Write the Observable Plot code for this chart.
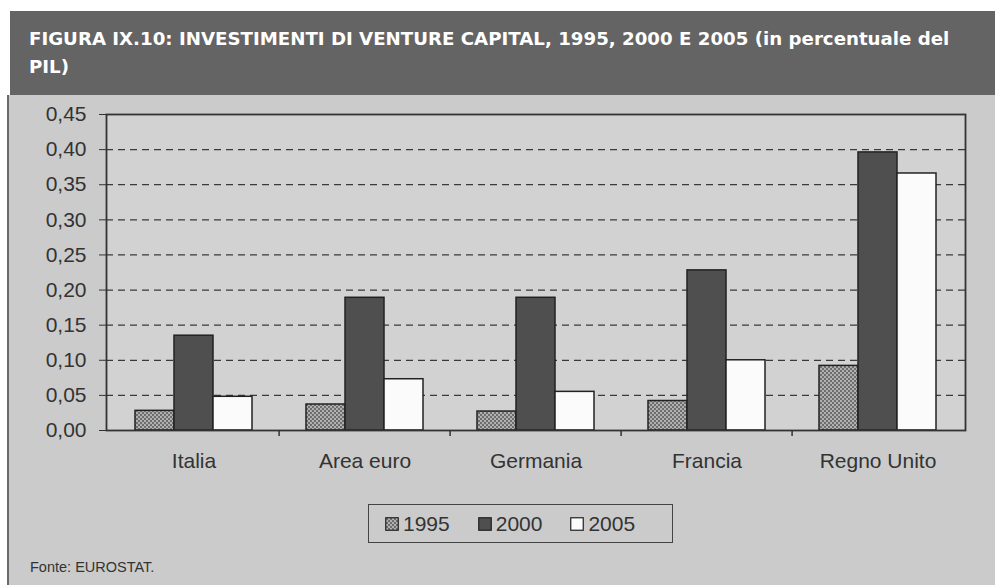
<!DOCTYPE html>
<html>
<head>
<meta charset="utf-8">
<script src="https://cdn.jsdelivr.net/npm/d3@7"></script>
<script src="https://cdn.jsdelivr.net/npm/@observablehq/plot@0.6"></script>
<style>
  html, body { margin: 0; padding: 0; background: #ffffff; }
  #page { position: relative; width: 995px; height: 585px; overflow: hidden; background: #ffffff; }
  #banner { position: absolute; left: 10px; top: 11px; width: 985px; height: 84px; background: #646464;
    color: #ffffff; font-family: "DejaVu Sans", "Open Sans", sans-serif; font-weight: 700; font-size: 16.5px;
    line-height: 28px; box-sizing: border-box; padding: 14px 0 0 19px; white-space: nowrap; }
  #area { position: absolute; left: 7px; top: 95px; width: 988px; height: 490px; background: #cbcbcb;
    border-left: 2px solid #6a6a6a; box-sizing: border-box; }
  #chart { position: absolute; left: 0; top: 95px; }
  #chart svg text { font-family: "Liberation Sans", Arial, sans-serif; }
  #legend { position: absolute; left: 368px; top: 504px; width: 305px; height: 39px; box-sizing: border-box;
    border: 1.5px solid #444; display: flex; align-items: center; padding-left: 16px;
    font-family: "Liberation Sans", Arial, sans-serif; font-size: 21px; color: #333; }
  .item { display: flex; align-items: center; margin-right: 28px; }
  .item svg { margin-right: 4px; }
  #source { position: absolute; left: 30px; top: 559px; font-family: "Liberation Sans", Arial, sans-serif;
    font-size: 14.5px; color: #333; }
</style>
</head>
<body>
<div id="page">
  <div id="area"></div>
  <div id="banner"><div id="t1"><span id="t1s">FIGURA IX.10: INVESTIMENTI DI VENTURE CAPITAL, 1995, 2000 E 2005 (in percentuale del</span></div><div id="t2"><span id="t2s">PIL)</span></div></div>
  <div id="chart"></div>
  <div id="legend"></div>
  <div id="source">Fonte: EUROSTAT.</div>
</div>
<script>
// ---- data ----
const countries = ["Italia", "Area euro", "Germania", "Francia", "Regno Unito"];
const years = ["1995", "2000", "2005"];
const v1995 = [0.028, 0.037, 0.027, 0.042, 0.092];
const v2000 = [0.135, 0.189, 0.189, 0.228, 0.396];
const v2005 = [0.048, 0.073, 0.055, 0.100, 0.366];
const yTicks = [0, 0.05, 0.10, 0.15, 0.20, 0.25, 0.30, 0.35, 0.40, 0.45];

// ---- layout ----
const W = 995, H = 490;
const mTop = 19, mBottom = 155, mLeft = 106, mRight = 30;
const plotW = W - mLeft - mRight, plotH = H - mTop - mBottom;
const step = plotW / countries.length;
const bw = 39;
const pInner = 1 - bw / step;
const series = [v1995, v2000, v2005];
const fills = ["url(#hatch95)", "#4f4f4f", "#fbfbfb"];
const gridVals = yTicks.filter(v => v > 0 && v < 0.45);
const tickLen = 6 * 0.45 / plotH;
const fmt = d => d.toFixed(2).replace(".", ",");

const plot = Plot.plot({
  width: W, height: H,
  marginTop: mTop, marginBottom: mBottom, marginLeft: mLeft, marginRight: mRight,
  style: { background: "transparent", fontFamily: "Liberation Sans, Arial, sans-serif", fontSize: "21px", color: "#333", overflow: "visible" },
  x: { domain: countries, paddingInner: pInner, paddingOuter: pInner / 2, label: null, tickSize: 0, tickPadding: 23 },
  y: { domain: [0, 0.45], ticks: yTicks, tickFormat: fmt, label: null, tickSize: 7, tickPadding: 13 },
  marks: [
    Plot.frame({ fill: "#d2d2d2" }),
    Plot.ruleY(gridVals, { stroke: "#3a3a3a", strokeWidth: 1.3, strokeDasharray: "7,5" }),
    ...years.map((yr, i) => Plot.barY(countries, {
      x: d => d, y: (d, j) => series[i][j], dx: (i - 1) * bw,
      fill: fills[i], stroke: "#222", strokeWidth: 1.5
    })),
    Plot.ruleX(countries.slice(1), { x: d => d, dx: -step / 2, y1: 0, y2: -tickLen, stroke: "#333", strokeWidth: 1.5 }),
    Plot.frame({ stroke: "#333", strokeWidth: 1.8 })
  ]
});

// hatch pattern for 1995
const ns = "http://www.w3.org/2000/svg";
const defs = document.createElementNS(ns, "defs");
defs.innerHTML = '<pattern id="hatch95" patternUnits="userSpaceOnUse" width="4" height="4">' +
  '<rect width="4" height="4" fill="#b0b0b0"/>' +
  '<path d="M0,0L4,4M4,0L0,4" stroke="#666" stroke-width="0.9"/></pattern>';
plot.insertBefore(defs, plot.firstChild);
plot.querySelectorAll("text").forEach(t => t.setAttribute("fill", "#333"));
document.getElementById("chart").appendChild(plot);

// legend
const leg = document.getElementById("legend");
years.forEach((yr, i) => {
  const item = document.createElement("div");
  item.className = "item";
  item.innerHTML = '<svg width="14" height="14"><rect x="0.75" y="0.75" width="12.5" height="12.5" fill="' + fills[i] + '" stroke="#222" stroke-width="1.2"/></svg><span>' + yr + '</span>';
  leg.appendChild(item);
});

// fit title width by font size
const banner = document.getElementById("banner");
const s1 = document.getElementById("t1s");
const target = 921;
const w0 = s1.getBoundingClientRect().width;
const fs = 16.5 * target / w0;
banner.style.fontSize = fs + "px";
</script>
</body>
</html>
